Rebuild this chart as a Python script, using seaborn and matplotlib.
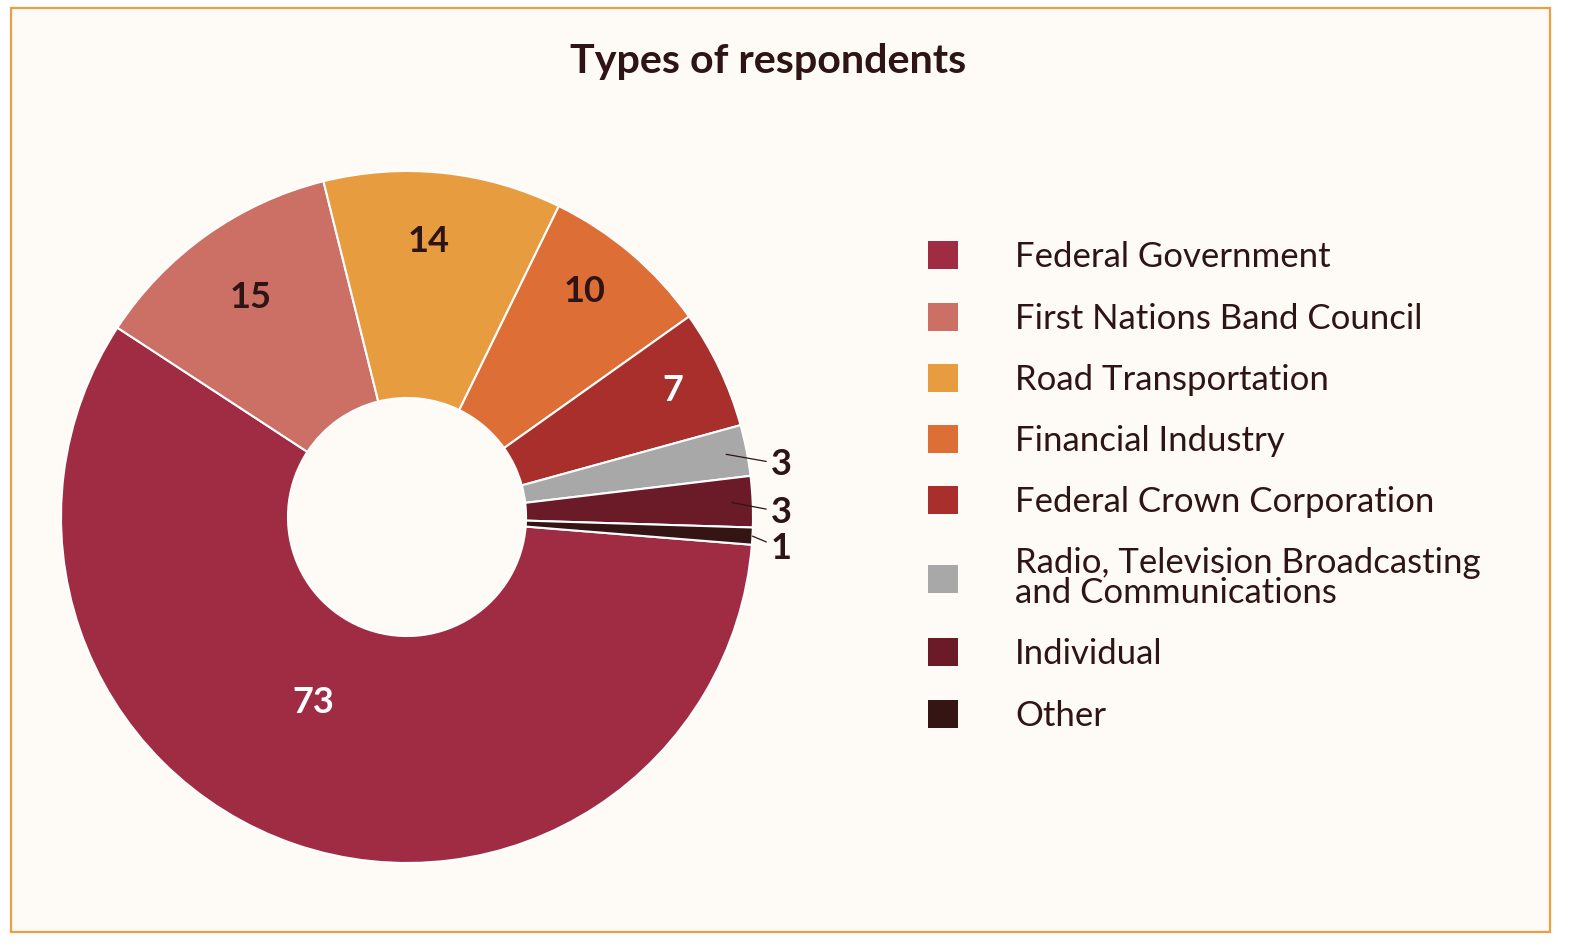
import numpy as np
import matplotlib
matplotlib.use("Agg")
import matplotlib.pyplot as plt
import seaborn as sns
from matplotlib.patches import Rectangle

# data
categories = ["Federal Government", "First Nations Band Council", "Road Transportation",
              "Financial Industry", "Federal Crown Corporation",
              "Radio, Television Broadcasting\nand Communications", "Individual", "Other"]
counts = [73, 15, 14, 10, 7, 3, 3, 1]
colors = ["#A02C44", "#CC7066", "#E89C40", "#DD6E36", "#A92F2C", "#A8A8A8", "#6B1A28", "#351414"]
title = "Types of respondents"

sns.set_theme(style="white")
plt.rcParams['font.family'] = ['Lato', 'DejaVu Sans']
text_col = "#2E1414"

fig = plt.figure(figsize=(15.7, 9.46), dpi=100, facecolor="white")
# framed cream panel, behind the pie axes
fig.patches.append(Rectangle((11 / 1570, 1 - 932 / 946), 1539 / 1570, 924 / 946,
                             transform=fig.transFigure, facecolor="#FEFAF6",
                             edgecolor="#E9A045", lw=1.6, zorder=-5))

ax = fig.add_axes([61 / 1570, 83 / 946, 692 / 1570, 692 / 946])
ax.set_facecolor("none")
wedges, _ = ax.pie(counts, colors=colors, startangle=-4.6, counterclock=False,
                   radius=1.0, wedgeprops=dict(width=0.656, edgecolor="white", linewidth=1.5))
ax.set_xlim(-1, 1)
ax.set_ylim(-1, 1)
ax.set_aspect("equal")
ax.axis("off")

# labels inside the big wedges
inner_r = [0.6, 0.78, 0.8, 0.83, 0.85]
inner_col = ["white", text_col, text_col, text_col, "white"]
angle_shift = [-8, 0, 1.5, 2, 0]
for i in range(5):
    w = wedges[i]
    mid = np.deg2rad((w.theta1 + w.theta2) / 2 + angle_shift[i])
    ax.text(inner_r[i] * np.cos(mid), inner_r[i] * np.sin(mid), str(counts[i]),
            ha="center", va="center", fontsize=26, fontweight="bold", color=inner_col[i])

# small wedges get outside labels with leader lines
dy = [-0.04, -0.03, -0.035]
start_r = [0.94, 0.94, 1.0]
for k, i in enumerate(range(5, 8)):
    w = wedges[i]
    mid = np.deg2rad((w.theta1 + w.theta2) / 2)
    ax.annotate(str(counts[i]), xy=(start_r[k] * np.cos(mid), start_r[k] * np.sin(mid)),
                xytext=(1.082, np.sin(mid) + dy[k]), ha="center", va="center",
                fontsize=26, fontweight="bold", color=text_col,
                arrowprops=dict(arrowstyle="-", color=text_col, lw=0.9,
                                shrinkA=1, shrinkB=0),
                annotation_clip=False)

leg = ax.legend(wedges, categories, loc="center left",
                bbox_to_anchor=(928 / 1570, 1 - 486.5 / 946),
                bbox_transform=fig.transFigure, frameon=False,
                fontsize=25, handlelength=0.865, handleheight=0.865,
                handletextpad=1.64, labelspacing=0.84, borderpad=0, borderaxespad=0)
for t in leg.get_texts():
    t.set_color(text_col)
    t.set_linespacing(0.92)
for h in leg.legend_handles:
    h.set_edgecolor("none")

fig.text(768 / 1570, 1 - 61 / 946, title, ha="center", va="center",
         fontsize=29.7, fontweight="bold", color=text_col)

fig.savefig("out.png", dpi=100, facecolor="white")
